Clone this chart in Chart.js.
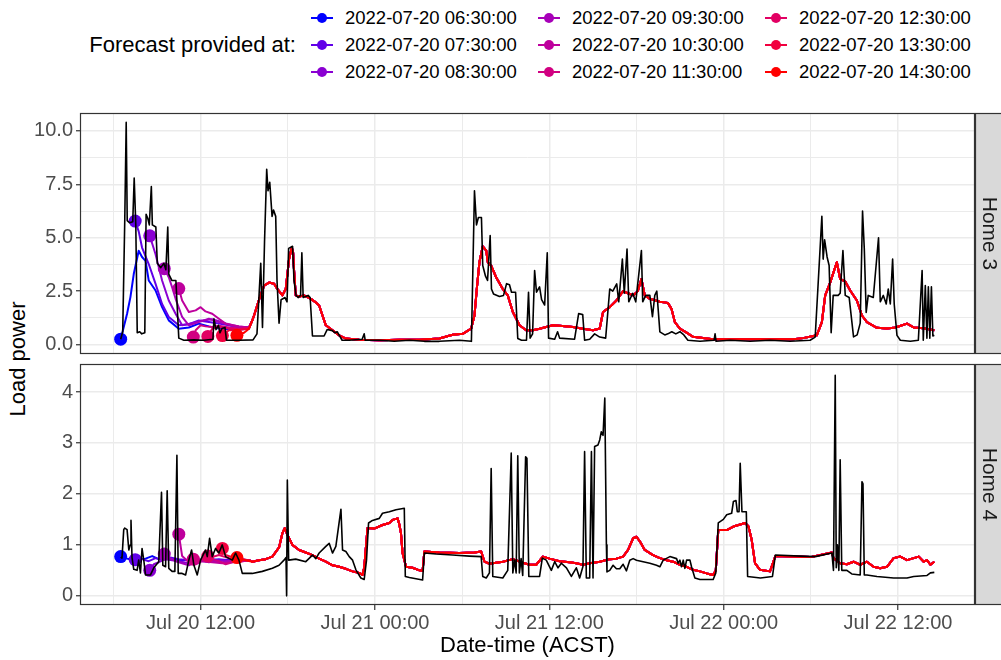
<!DOCTYPE html>
<html>
<head>
<meta charset="utf-8">
<script src="https://cdn.jsdelivr.net/npm/chart.js@4.4.0/dist/chart.umd.min.js"></script>
<style>
  body { margin: 0; background: #fff; font-family: "Liberation Sans", Arial, sans-serif; }
  #wrap { position: relative; width: 1001px; height: 660px; overflow: hidden; background: #fff; }
  canvas { position: absolute; left: 0; }
  .ltitle { position: absolute; right: 705px; top: 32px; font-size: 22px; line-height: 26px; color: #000; white-space: nowrap; }
  .litem { position: absolute; height: 26px; white-space: nowrap; font-size: 18.5px; line-height: 26px; color: #000; }
  .litem .key { position: absolute; left: 0; top: 12px; width: 22px; height: 2px; }
  .litem .dot { position: absolute; left: 6px; top: 8px; width: 10px; height: 10px; border-radius: 50%; }
  .litem .txt { position: absolute; left: 34px; top: 0; }
  #ytitle { position: absolute; left: 18px; top: 359px; transform: translate(-50%, -50%) rotate(-90deg); font-size: 22px; white-space: nowrap; color: #000; }
</style>
</head>
<body>
<div id="wrap">
  <div id="legend"></div>
  <div id="ytitle">Load power</div>
  <canvas id="home3" width="1001" height="260" style="top:100px"></canvas>
  <canvas id="home4" width="1001" height="305" style="top:355px"></canvas>
</div>
<script>
// times are hours since 2022-07-20 00:00 (ACST)
const forecastRuns = [
  '2022-07-20 06:30:00', '2022-07-20 07:30:00', '2022-07-20 08:30:00',
  '2022-07-20 09:30:00', '2022-07-20 10:30:00', '2022-07-20 11:30:00',
  '2022-07-20 12:30:00', '2022-07-20 13:30:00', '2022-07-20 14:30:00'
];
const runColours = ['#0000FF', '#6100E8', '#8A00D2', '#A700B8', '#BE009D', '#D10081', '#E20063', '#F1003F', '#FF0000'];

// ---- Home 3 ----
const home3LoadHours = [
  6.5, 6.64, 6.78, 6.88, 6.95, 7.12, 7.33, 7.43, 7.54, 7.64, 7.81, 7.95, 8.16, 8.25, 8.37, 8.47, 8.61, 8.68, 8.92, 9.02,
  9.26, 9.47, 9.61, 9.74, 9.81, 10.02, 10.3, 10.5, 10.85, 11.54, 12.23, 12.85, 12.92, 13.06, 13.23, 13.33, 13.47, 13.68, 13.78, 14.64,
  15.61, 15.88, 16.14, 16.26, 16.4, 16.55, 16.64, 16.76, 16.92, 17.02, 17.17, 17.26, 17.4, 17.54, 17.81, 17.95, 18.06, 18.33, 18.43, 18.57,
  18.71, 18.88, 18.97, 19.06, 19.4, 19.54, 19.7, 20.5, 20.71, 21.06, 21.26, 21.4, 21.74, 22.23, 23.12, 23.26, 23.33, 24.3, 25.33, 26.37,
  27.4, 28.43, 29.81, 30.64, 30.85, 30.99, 31.12, 31.33, 31.42, 31.61, 31.75, 31.93, 32.02, 32.16, 32.57, 32.85, 33.06, 33.26, 33.4, 33.68,
  33.83, 34.09, 34.43, 34.57, 34.68, 34.85, 34.99, 35.12, 35.33, 35.47, 35.68, 35.86, 35.95, 36.37, 36.57, 36.71, 37.74, 38.02, 38.3, 38.43,
  38.78, 39.12, 39.47, 39.88, 40.16, 40.37, 40.64, 40.78, 41.03, 41.16, 41.35, 41.47, 41.74, 41.95, 42.34, 42.43, 42.64, 42.92, 43.1, 43.26,
  43.4, 43.61, 43.95, 44.16, 44.43, 44.71, 44.99, 45.26, 45.54, 46.37, 47.34, 47.41, 47.48, 48.44, 49.82, 51.19, 52.57, 53.95, 54.3, 54.5,
  54.76, 54.85, 54.95, 55.12, 55.26, 55.4, 55.54, 55.88, 56.02, 56.21, 56.37, 56.64, 56.94, 57.19, 57.4, 57.56, 57.68, 57.81, 57.95, 58.3,
  58.66, 58.78, 58.99, 59.19, 59.33, 59.47, 59.63, 59.74, 59.93, 60.16, 60.85, 61.4, 61.66, 61.74, 61.88, 61.99, 62.09, 62.19, 62.3, 62.4,
  62.5
];
const home3LoadKw = [
  0.25, 0.6, 5.8, 10.4, 5.8, 5.7, 5.75, 7.8, 5.6, 0.55, 0.6, 0.5, 0.55, 6.1, 5.9, 5.6, 7.4, 5.6, 5.5, 3.8,
  3.6, 3.8, 3.5, 5.5, 3.3, 3.0, 3.0, 0.3, 0.2, 0.22, 0.2, 0.25, 1.2, 0.7, 0.9, 0.55, 0.75, 0.8, 0.2, 0.2,
  0.22, 0.5, 3.8, 0.8, 4.8, 8.2, 7.2, 7.6, 6.0, 6.3, 6.0, 3.0, 1.0, 2.1, 2.2, 2.0, 4.5, 4.6, 3.0, 2.3,
  2.2, 2.3, 4.3, 2.2, 2.3, 2.2, 0.4, 0.4, 0.7, 0.65, 0.55, 0.6, 0.2, 0.2, 0.25, 0.5, 0.2, 0.2, 0.15, 0.2,
  0.15, 0.15, 0.2, 0.15, 7.2, 5.6, 5.95, 5.95, 3.7, 3.2, 3.0, 5.1, 2.6, 2.37, 2.25, 2.3, 2.85, 2.8, 2.45, 2.45,
  0.28, 0.2, 0.2, 2.45, 0.3, 0.5, 3.46, 2.45, 2.7, 2.1, 1.85, 4.3, 0.3, 0.25, 0.6, 0.3, 0.25, 1.45, 1.4, 0.2,
  0.25, 0.5, 0.35, 0.3, 2.6, 2.5, 2.84, 2.0, 4.0, 2.4, 4.47, 2.0, 2.4, 2.0, 4.4, 2.0, 2.3, 2.3, 1.3, 2.3,
  2.5, 0.59, 0.45, 0.5, 0.6, 0.5, 0.6, 0.45, 0.2, 0.15, 0.2, 0.5, 0.15, 0.2, 0.15, 0.2, 0.15, 0.2, 0.35, 2.8,
  6.0, 4.0, 4.9, 4.1, 3.7, 0.55, 2.3, 2.3, 2.4, 4.4, 2.3, 2.2, 0.36, 0.45, 1.0, 6.25, 4.5, 1.5, 2.3, 2.2,
  5.0, 2.0, 2.3, 1.9, 2.6, 1.9, 4.0, 1.9, 0.43, 0.2, 0.15, 0.2, 3.46, 0.2, 2.76, 0.3, 2.7, 0.3, 2.7, 0.4,
  0.43
];
// first hours of each forecast run, one list per run
const home3HeadHours = [
  [6.5, 6.94, 7.17, 7.4, 7.74, 7.97, 8.21, 8.43, 8.9, 9.35, 9.81, 10.5, 11.19, 11.88, 12.57, 13.26, 13.95, 14.64, 15.33],
  [7.5, 7.74, 7.97, 8.43, 8.9, 9.35, 9.81, 10.5, 11.19, 11.88, 12.57, 13.26, 13.95, 14.64, 15.33],
  [8.5, 8.9, 9.35, 9.81, 10.28, 10.73, 11.42, 12.11, 12.8, 13.49, 13.95, 14.64, 15.33],
  [9.5, 9.59, 9.81, 10.04, 10.28, 10.73, 11.19, 11.88, 12.57, 13.26, 13.95, 14.64, 15.33],
  [10.5, 10.73, 11.19, 11.66, 12.0, 12.34, 12.8, 13.26, 13.72, 14.18, 14.64, 15.33],
  [11.5, 11.66, 12.0, 12.34, 12.8, 13.26, 13.95, 14.64, 15.33],
  [12.5, 12.8, 13.26, 13.95, 14.64, 15.33],
  [13.5, 13.95, 14.64, 15.33],
  [14.5, 14.99, 15.33]
];
const home3HeadKw = [
  [0.25, 1.44, 2.22, 3.3, 4.39, 4.1, 3.92, 3.0, 2.53, 1.75, 1.13, 0.74, 0.8, 0.98, 0.85, 0.75, 0.72, 0.7, 0.74],
  [5.78, 5.3, 4.54, 3.77, 2.84, 1.9, 1.29, 0.9, 0.95, 1.13, 1.05, 0.98, 0.9, 0.8, 0.8],
  [5.09, 4.23, 3.0, 2.06, 1.44, 0.9, 1.0, 1.13, 1.18, 1.05, 0.9, 0.82, 0.8],
  [3.55, 3.45, 3.15, 2.68, 2.14, 1.29, 0.9, 1.05, 1.21, 1.05, 0.95, 0.85, 0.8],
  [2.62, 2.06, 1.52, 1.6, 1.75, 1.55, 1.44, 1.21, 0.98, 0.9, 0.85, 0.8],
  [0.35, 0.67, 0.9, 0.85, 0.82, 0.88, 0.8, 0.75, 0.78],
  [0.38, 0.74, 0.82, 0.75, 0.72, 0.76],
  [0.42, 0.67, 0.68, 0.75],
  [0.43, 0.55, 0.74]
];
// later hours, where the runs lie on top of each other
const home3TailHours = [
  15.54, 15.68, 16.02, 16.37, 16.71, 17.06, 17.28, 17.63, 17.86, 18.09, 18.28, 18.37, 18.43, 18.55, 18.78, 19.12, 19.59, 19.88, 20.16, 20.39,
  20.62, 21.08, 21.54, 22.0, 22.92, 24.3, 25.68, 27.06, 28.43, 29.35, 30.04, 30.62, 30.85, 31.01, 31.19, 31.42, 31.66, 31.77, 32.0, 32.34,
  32.8, 33.14, 33.49, 33.95, 34.41, 34.87, 35.33, 36.25, 36.71, 37.63, 38.32, 39.01, 39.47, 39.7, 40.16, 40.62, 41.08, 41.41, 41.77, 42.09,
  42.34, 42.57, 42.92, 43.61, 44.16, 44.41, 44.64, 44.99, 45.45, 45.9, 47.26, 50.02, 52.78, 53.47, 54.41, 54.76, 54.99, 55.33, 55.56, 55.79,
  56.02, 56.37, 56.71, 57.17, 57.52, 57.86, 58.55, 59.24, 59.7, 59.93, 60.62, 61.08, 61.77, 62.5
];
const home3TailKw = [
  1.1, 1.36, 2.1, 2.76, 2.9, 2.85, 2.6, 2.3, 2.6, 4.0, 4.54, 4.3, 3.5, 2.3, 2.25, 2.3, 2.14, 2.0, 1.83, 1.36,
  0.9, 0.67, 0.43, 0.28, 0.22, 0.2, 0.22, 0.22, 0.28, 0.46, 0.5, 0.74, 1.36, 2.6, 3.85, 4.6, 4.4, 3.85, 3.69, 3.15,
  2.6, 2.3, 1.52, 0.9, 0.67, 0.67, 0.74, 0.9, 0.88, 0.82, 0.74, 0.67, 0.75, 1.52, 1.75, 2.06, 2.5, 2.4, 2.3, 2.5,
  3.07, 2.3, 2.14, 2.0, 1.95, 1.67, 1.05, 0.74, 0.56, 0.36, 0.25, 0.25, 0.25, 0.3, 0.43, 1.05, 2.3, 2.9, 3.38, 3.85,
  3.07, 2.95, 2.53, 2.06, 1.36, 1.05, 0.78, 0.75, 0.78, 0.82, 0.98, 0.8, 0.76, 0.67
];

// ---- Home 4 ----
const home4LoadHours = [
  6.5, 6.59, 6.71, 6.78, 6.94, 7.06, 7.16, 7.21, 7.28, 7.4, 7.63, 7.74, 7.86, 7.97, 8.09, 8.21, 8.55, 8.78, 9.12, 9.31,
  9.4, 9.59, 9.7, 9.81, 10.04, 10.23, 10.37, 10.46, 10.73, 10.97, 11.19, 11.38, 11.54, 11.77, 12.0, 12.34, 12.46, 12.62, 12.8, 13.03,
  13.26, 13.49, 13.72, 14.18, 14.41, 14.64, 14.87, 15.56, 16.25, 16.94, 17.4, 17.74, 17.88, 17.92, 17.97, 18.06, 18.55, 19.24, 19.7, 19.93,
  20.16, 20.62, 20.85, 21.08, 21.31, 21.66, 21.77, 22.0, 22.23, 22.46, 22.69, 23.03, 23.26, 23.42, 23.56, 23.83, 24.3, 24.52, 24.99, 25.45,
  26.02, 26.09, 26.37, 27.28, 27.4, 28.21, 29.35, 30.5, 31.31, 31.42, 31.66, 31.88, 32.0, 32.11, 32.8, 33.14, 33.38, 33.49, 33.61, 33.72,
  33.83, 33.94, 34.06, 34.17, 34.37, 34.46, 34.59, 35.33, 35.52, 35.79, 36.14, 36.37, 36.6, 36.83, 37.18, 37.52, 37.86, 38.09, 38.32, 38.43,
  38.55, 38.78, 38.9, 39.01, 39.12, 39.35, 39.47, 39.58, 39.7, 39.82, 39.93, 39.97, 40.16, 40.39, 40.62, 40.85, 41.08, 41.31, 41.54, 41.77,
  42.0, 42.46, 42.92, 43.38, 43.61, 43.84, 44.3, 44.76, 44.87, 44.99, 45.1, 45.22, 45.33, 45.45, 45.68, 45.79, 46.02, 46.37, 47.28, 47.46,
  47.63, 47.98, 48.21, 48.55, 48.67, 48.85, 48.94, 49.06, 49.14, 49.26, 49.56, 49.65, 50.53, 51.36, 51.56, 53.28, 54.31, 55.45, 55.56, 55.68,
  55.75, 55.83, 55.93, 56.02, 56.13, 56.48, 56.82, 57.4, 57.52, 57.59, 57.68, 57.86, 58.55, 59.7, 60.62, 61.08, 62.0, 62.23, 62.5
];
const home4LoadKw = [
  0.76, 0.74, 1.3, 1.33, 1.3, 0.9, 1.0, 1.48, 0.75, 0.52, 0.5, 0.7, 0.45, 0.93, 0.7, 0.41, 0.41, 0.55, 0.67, 2.03,
  0.6, 0.57, 2.06, 0.54, 0.48, 0.48, 2.76, 0.44, 0.44, 0.41, 0.7, 0.9, 0.6, 0.41, 0.7, 0.9, 0.77, 1.13, 0.77, 0.93,
  0.84, 1.0, 0.77, 0.7, 0.84, 0.7, 0.44, 0.44, 0.48, 0.54, 0.6, 0.7, 0.75, 0.0, 2.27, 0.7, 0.72, 0.67, 0.8, 0.73,
  0.84, 0.97, 1.03, 0.84, 0.97, 1.7, 0.9, 0.87, 0.77, 0.7, 0.51, 0.35, 0.32, 0.7, 1.43, 1.48, 1.52, 1.62, 1.65, 1.69,
  1.72, 0.38, 0.36, 0.31, 0.84, 0.82, 0.8, 0.78, 0.77, 0.38, 0.35, 0.45, 2.5, 0.38, 0.35, 0.5, 2.8, 0.45, 0.7, 0.45,
  2.75, 0.45, 0.73, 0.4, 2.73, 2.7, 0.38, 0.38, 0.74, 0.7, 0.5, 0.67, 0.55, 0.64, 0.55, 0.38, 0.55, 0.35, 0.58, 2.83,
  0.35, 0.35, 2.83, 0.35, 2.93, 2.96, 3.06, 3.22, 3.15, 3.88, 1.0, 0.47, 0.5, 0.6, 0.53, 0.53, 0.62, 0.49, 0.7, 0.73,
  0.7, 0.67, 0.64, 0.6, 0.57, 0.7, 0.77, 0.73, 0.64, 0.7, 0.57, 0.7, 0.54, 0.7, 0.7, 0.57, 0.35, 0.32, 0.32, 0.45,
  1.43, 1.5, 1.59, 1.62, 1.85, 1.87, 1.65, 1.65, 2.6, 1.65, 1.65, 0.38, 0.35, 0.38, 0.8, 0.78, 0.77, 0.84, 0.5, 4.33,
  0.55, 1.0, 0.5, 2.67, 0.5, 0.5, 0.43, 0.41, 2.24, 2.2, 0.41, 0.41, 0.38, 0.35, 0.35, 0.38, 0.4, 0.45, 0.46
];
const home4HeadHours = [
  [6.5, 7.06, 7.4, 7.74, 8.21, 8.67, 9.12, 9.59, 10.04, 10.73, 11.42, 12.11, 12.8, 13.49, 14.18, 14.87, 15.33],
  [7.5, 7.97, 8.43, 8.9, 9.35, 9.81, 10.5, 11.19, 11.88, 12.57, 13.26, 13.95, 14.64, 15.33],
  [8.5, 8.78, 9.12, 9.59, 10.04, 10.5, 11.19, 11.88, 12.57, 13.26, 13.95, 14.64, 15.33],
  [9.5, 9.81, 10.28, 10.73, 11.19, 11.66, 12.11, 12.8, 13.49, 14.18, 14.87, 15.33],
  [10.5, 10.73, 11.19, 11.66, 12.11, 12.8, 13.49, 14.18, 14.87, 15.33],
  [11.5, 11.88, 12.34, 12.8, 13.26, 13.72, 14.18, 14.87, 15.33],
  [12.5, 12.8, 13.26, 13.72, 14.18, 14.87, 15.33],
  [13.5, 13.72, 14.18, 14.64, 15.33],
  [14.5, 14.64, 15.1]
];
const home4HeadKw = [
  [0.77, 0.72, 0.8, 0.72, 0.73, 0.78, 0.72, 0.75, 0.72, 0.7, 0.72, 0.7, 0.72, 0.7, 0.72, 0.7, 0.7],
  [0.71, 0.72, 0.68, 0.74, 0.7, 0.76, 0.72, 0.7, 0.72, 0.68, 0.72, 0.7, 0.72, 0.7],
  [0.5, 0.62, 0.66, 0.72, 0.7, 0.68, 0.64, 0.7, 0.66, 0.7, 0.68, 0.7, 0.7],
  [0.82, 0.75, 0.68, 0.64, 0.6, 0.66, 0.7, 0.68, 0.66, 0.7, 0.72, 0.7],
  [1.21, 0.78, 0.66, 0.62, 0.68, 0.66, 0.64, 0.66, 0.68, 0.7],
  [0.72, 0.68, 0.74, 0.72, 0.68, 0.62, 0.66, 0.68, 0.7],
  [0.78, 0.76, 0.8, 0.76, 0.72, 0.7, 0.7],
  [0.93, 0.8, 0.76, 0.72, 0.7],
  [0.75, 0.74, 0.7]
];
const home4TailHours = [
  15.56, 16.02, 16.48, 16.94, 17.4, 17.63, 17.79, 17.97, 18.32, 18.78, 19.24, 19.7, 20.16, 20.62, 21.08, 21.54, 22.0, 22.46, 22.92, 23.14,
  23.26, 23.49, 23.95, 24.52, 24.99, 25.21, 25.56, 25.68, 25.79, 25.9, 26.14, 26.59, 27.06, 27.28, 27.4, 28.43, 29.81, 30.85, 31.31, 31.54,
  31.88, 32.34, 32.8, 33.49, 34.18, 34.64, 35.1, 35.56, 36.02, 36.71, 37.4, 37.86, 38.32, 38.78, 39.47, 40.16, 40.62, 41.08, 41.42, 41.77,
  42.0, 42.23, 42.57, 43.14, 43.61, 44.07, 44.52, 44.99, 45.45, 45.9, 46.37, 46.83, 47.28, 47.46, 47.63, 48.21, 48.67, 49.14, 49.48, 49.71,
  49.93, 50.16, 50.5, 51.19, 51.56, 52.59, 53.97, 55.45, 55.56, 56.02, 56.48, 56.94, 57.4, 57.86, 58.32, 58.78, 59.24, 59.7, 60.16, 60.62,
  61.08, 61.43, 61.77, 62.0, 62.23, 62.5
];
const home4TailKw = [
  0.67, 0.7, 0.72, 0.77, 0.95, 1.23, 1.33, 1.2, 1.0, 0.9, 0.85, 0.8, 0.73, 0.67, 0.6, 0.57, 0.53, 0.48, 0.45, 0.41,
  0.55, 1.33, 1.32, 1.39, 1.43, 1.49, 1.52, 1.4, 1.23, 0.84, 0.57, 0.55, 0.5, 0.49, 0.87, 0.85, 0.84, 0.85, 0.87, 0.67,
  0.63, 0.65, 0.67, 0.72, 0.65, 0.61, 0.61, 0.77, 0.73, 0.68, 0.66, 0.64, 0.61, 0.64, 0.67, 0.72, 0.73, 0.77, 0.9, 1.13,
  1.16, 1.07, 0.9, 0.8, 0.74, 0.7, 0.67, 0.61, 0.57, 0.51, 0.48, 0.44, 0.41, 0.5, 1.29, 1.29, 1.36, 1.4, 1.43, 1.36,
  1.1, 0.64, 0.51, 0.48, 0.78, 0.77, 0.76, 0.85, 0.74, 0.64, 0.62, 0.67, 0.61, 0.67, 0.57, 0.54, 0.57, 0.74, 0.77, 0.7,
  0.74, 0.77, 0.67, 0.7, 0.61, 0.67
];

const xTickHours = [12, 24, 36, 48, 60];

function toPoints(hours, values) {
  return hours.map(function (h, i) { return { x: h, y: values[i] }; });
}

function clockLabel(h) {
  const day = 20 + Math.floor(h / 24);
  const hh = h % 24;
  return 'Jul ' + day + ' ' + String(hh).padStart(2, '0') + ':00';
}

// facet frame + grey strip on the right
const facetStrip = {
  id: 'facetStrip',
  afterDraw: function (chart, args, opts) {
    const ctx = chart.ctx, a = chart.chartArea;
    const l = Math.round(a.left), t = Math.round(a.top), r = Math.round(a.right), b = Math.round(a.bottom);
    ctx.save();
    ctx.fillStyle = '#D9D9D9';
    ctx.fillRect(r, t, chart.width - r, b - t);
    ctx.strokeStyle = '#333333';
    ctx.lineWidth = 1.2;
    ctx.strokeRect(r + 0.5, t + 0.5, chart.width - r + 5, b - t - 1);
    ctx.strokeRect(l + 0.5, t + 0.5, r - l - 1, b - t - 1);
    ctx.translate(r + (chart.width - r) / 2 + 1, (t + b) / 2);
    ctx.rotate(Math.PI / 2);
    ctx.fillStyle = '#1A1A1A';
    ctx.font = '21px "Liberation Sans", Arial, sans-serif';
    ctx.textAlign = 'center';
    ctx.textBaseline = 'middle';
    ctx.fillText(opts.label, 0, 0);
    ctx.restore();
  }
};

function panel(canvasId, cfg) {
  const datasets = [];
  // measured load on top of everything
  datasets.push({
    data: toPoints(cfg.loadHours, cfg.loadKw),
    borderColor: '#000000', borderWidth: 1.6, pointRadius: 0, order: 0
  });
  // start point of every forecast run
  datasets.push({
    data: cfg.headHours.map(function (hs, i) { return { x: hs[0], y: cfg.headKw[i][0] }; }),
    showLine: false, pointRadius: 6.5, pointBorderWidth: 0,
    pointBackgroundColor: runColours, order: 1
  });
  forecastRuns.forEach(function (run, i) {
    datasets.push({
      label: run,
      data: toPoints(cfg.headHours[i].concat(cfg.tailHours), cfg.headKw[i].concat(cfg.tailKw)),
      borderColor: runColours[i], borderWidth: 2, pointRadius: 0, order: 10 - i
    });
  });

  const tickFont = { family: '"Liberation Sans", Arial, sans-serif', size: 20 };
  return new Chart(document.getElementById(canvasId), {
    type: 'line',
    data: { datasets: datasets },
    plugins: [facetStrip],
    options: {
      responsive: false,
      animation: false,
      parsing: false,
      normalized: true,
      events: [],
      layout: { padding: cfg.padding },
      elements: { line: { tension: 0, borderJoinStyle: 'round' } },
      plugins: {
        legend: { display: false },
        tooltip: { enabled: false },
        facetStrip: { label: cfg.label }
      },
      scales: {
        x: {
          type: 'linear', min: 3.7, max: 65.3,
          border: { display: false },
          grid: {
            color: '#EBEBEB',
            lineWidth: function (c) { return c.tick && xTickHours.indexOf(c.tick.value) >= 0 ? 1.5 : 1; },
            drawTicks: cfg.showX,
            tickLength: 5,
            tickWidth: 1.2,
            tickColor: function (c) { return c.tick && xTickHours.indexOf(c.tick.value) >= 0 ? '#333333' : 'rgba(0,0,0,0)'; }
          },
          ticks: {
            display: cfg.showX, stepSize: 6, includeBounds: false, autoSkip: false,
            maxRotation: 0, minRotation: 0, padding: 1, color: '#4D4D4D', font: tickFont,
            callback: function (v) { return xTickHours.indexOf(v) >= 0 ? clockLabel(v) : ''; }
          },
          title: {
            display: cfg.showX, text: 'Date-time (ACST)', color: '#000000',
            font: { family: '"Liberation Sans", Arial, sans-serif', size: 22 },
            padding: { top: 0, bottom: 1 }
          },
          afterFit: function (s) { s.height = cfg.xHeight; s.paddingLeft = 0; s.paddingRight = 0; }
        },
        y: {
          type: 'linear', min: cfg.yMin, max: cfg.yMax,
          border: { display: false },
          grid: {
            color: function (c) { return c.tick && c.tick.value > cfg.yTop ? 'rgba(0,0,0,0)' : '#EBEBEB'; },
            lineWidth: function (c) { return c.tick && cfg.isMajor(c.tick.value) ? 1.5 : 1; },
            tickLength: 4,
            tickWidth: 1.2,
            tickColor: function (c) { return c.tick && cfg.isMajor(c.tick.value) ? '#333333' : 'rgba(0,0,0,0)'; }
          },
          ticks: {
            stepSize: cfg.yStep, includeBounds: false, padding: 3, color: '#4D4D4D', font: tickFont,
            callback: function (v) { return cfg.isMajor(v) ? cfg.fmt(v) : ''; }
          },
          afterFit: function (s) { s.width = 80; s.paddingTop = 0; s.paddingBottom = 0; }
        }
      }
    }
  });
}

panel('home3', {
  label: 'Home 3',
  loadHours: home3LoadHours, loadKw: home3LoadKw,
  headHours: home3HeadHours, headKw: home3HeadKw,
  tailHours: home3TailHours, tailKw: home3TailKw,
  yMin: -0.42, yMax: 10.84, yStep: 1.25, yTop: 10,
  isMajor: function (v) { return Math.abs(v / 2.5 - Math.round(v / 2.5)) < 1e-6; },
  fmt: function (v) { return v.toFixed(1); },
  showX: false, xHeight: 0,
  padding: { top: 13, bottom: 5, left: 0, right: 26 }
});

panel('home4', {
  label: 'Home 4',
  loadHours: home4LoadHours, loadKw: home4LoadKw,
  headHours: home4HeadHours, headKw: home4HeadKw,
  tailHours: home4TailHours, tailKw: home4TailKw,
  yMin: -0.18, yMax: 4.55, yStep: 0.5, yTop: 4,
  isMajor: function (v) { return Math.abs(v - Math.round(v)) < 1e-6; },
  fmt: function (v) { return String(Math.round(v)); },
  showX: true, xHeight: 55,
  padding: { top: 9, bottom: 0, left: 0, right: 26 }
});

// legend: title on the left, runs in three columns
(function () {
  const legend = document.getElementById('legend');
  const title = document.createElement('div');
  title.className = 'ltitle';
  title.textContent = 'Forecast provided at:';
  legend.appendChild(title);
  const colLeft = [311, 538, 765];
  const rowTop = [5, 32, 59];
  forecastRuns.forEach(function (run, i) {
    const item = document.createElement('div');
    item.className = 'litem';
    item.style.left = colLeft[Math.floor(i / 3)] + 'px';
    item.style.top = rowTop[i % 3] + 'px';
    item.innerHTML = '<span class="key"></span><span class="dot"></span><span class="txt"></span>';
    item.querySelector('.key').style.background = runColours[i];
    item.querySelector('.dot').style.background = runColours[i];
    item.querySelector('.txt').textContent = run;
    legend.appendChild(item);
  });
})();
</script>
</body>
</html>
